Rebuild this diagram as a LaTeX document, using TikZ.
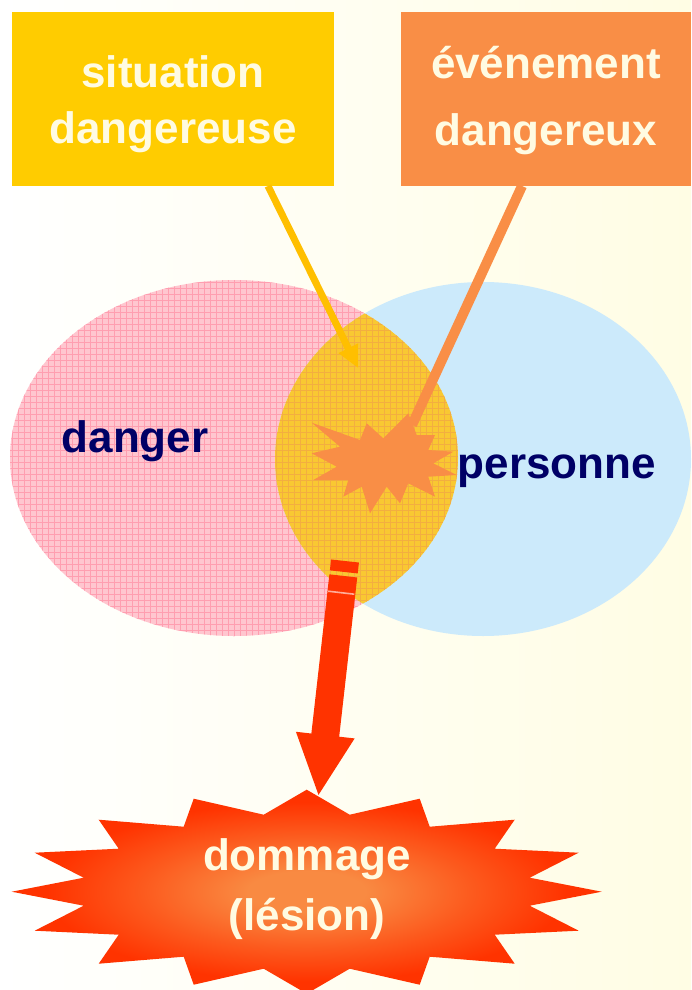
\documentclass[tikz,border=0pt]{standalone}
\usepackage{fontspec}
\setmainfont{Liberation Sans}
\usetikzlibrary{arrows.meta}
\definecolor{bgR}{HTML}{FFFDE4}
\definecolor{yellowbox}{HTML}{FFCC00}
\definecolor{orangebox}{HTML}{F98E46}
\definecolor{cream}{HTML}{FFFBE2}
\definecolor{navy}{HTML}{000066}
\definecolor{pinkfill}{HTML}{FFC6CF}
\definecolor{pinkgrid}{HTML}{FF9EB0}
\definecolor{bluefill}{HTML}{CCEAFB}
\definecolor{lensfill}{HTML}{F9C832}
\definecolor{lensgrid}{HTML}{F3AE40}
\definecolor{yline}{HTML}{FFBF00}
\definecolor{arrowred}{HTML}{FF3300}
\definecolor{dmgin}{HTML}{F98A42}
\pgfdeclareradialshading{dmgshade}{\pgfpoint{0bp}{0bp}}{color(0bp)=(dmgin); color(5bp)=(dmgin); color(14bp)=(dmgin!45!arrowred); color(22bp)=(arrowred); color(50bp)=(arrowred)}
\tikzset{
  boxnode/.style={rectangle, inner sep=0pt, draw=none},
  boxtext/.style={anchor=base, text=cream, font=\bfseries\fontsize{44}{44}\selectfont, inner sep=0pt},
  labeltext/.style={anchor=base, text=navy, font=\bfseries\fontsize{44}{44}\selectfont, inner sep=0pt},
}
\begin{document}
\begin{tikzpicture}[x=1pt,y=-1pt]
\useasboundingbox (0,0) rectangle (691,990);
\shade[left color=white, right color=bgR] (0,0) rectangle (691,990);

% boxes
\node[boxnode, fill=yellowbox, minimum width=322pt, minimum height=174pt] (sit) at (173,99) {};
\node[boxtext] (sit1) at (173,88) {situation};
\node[boxtext] (sit2) at (173,143) {dangereuse};
\node[boxnode, fill=orangebox, minimum width=290pt, minimum height=174pt] (ev) at (546,99) {};
\node[boxtext] (ev1) at (546,78) {événement};
\node[boxtext] (ev2) at (546,145) {dangereux};

% danger ellipse with grid
\begin{scope}
  \clip (234,458) ellipse [x radius=224pt, y radius=178pt];
  \fill[pinkfill] (0,270) rectangle (470,650);
  \draw[pinkgrid, line width=0.8pt, step=6pt] (0,650) grid (470,270);
\end{scope}
% personne ellipse
\fill[bluefill] (483,459) ellipse [x radius=208pt, y radius=177pt];
% lens
\begin{scope}
  \clip (234,458) ellipse [x radius=224pt, y radius=178pt];
  \clip (483,459) ellipse [x radius=208pt, y radius=177pt];
  \fill[lensfill] (260,270) rectangle (470,650);
  \draw[lensgrid, line width=0.8pt, step=6pt] (258,650) grid (470,270);
\end{scope}

\node[labeltext] (danger) at (135,452) {danger};
\node[labeltext] (pers) at (557,478) {personne};

% connectors from boxes
\coordinate (sitfoot) at (268,186);
\coordinate (sittip) at (358,368);
\draw[yline, line width=7pt, -{Triangle[length=22pt,width=20pt]}] (sitfoot) -- (sittip);

% small explosion
\fill[orangebox] plot coordinates {(311.7,422.7) (360,440) (366.7,423.3) (383.3,438.3) (408.3,413.3) (416.7,435) (435,435) (428.3,450) (453.3,451.7) (433.3,463.3) (456.7,475) (428.3,476.7) (435,496.7) (408.3,483.3) (400,503.3) (386.7,486.7) (370,513.3) (361.7,486.7) (343.3,496.7) (348.3,480) (313.3,480) (336.7,466.7) (311.7,453.3) (340,446.7)} -- cycle;
\coordinate (evfoot) at (522,186);
\coordinate (evtip) at (412,425);
\draw[orangebox, line width=10pt] (evfoot) -- (evtip);

% dommage star
\begin{scope}[shift={(306.7,891.7)}]
\shade[shading=dmgshade] plot coordinates {(295,0) (223,-14) (272,-39) (188,-43) (208,-72) (123,-65) (113,-93) (43,-77) (0,-102) (-43,-77) (-113,-93) (-123,-65) (-208,-72) (-188,-43) (-272,-39) (-223,-14) (-295,0) (-223,14) (-272,39) (-188,43) (-208,72) (-123,65) (-113,93) (-43,77) (0,102) (43,77) (113,93) (123,65) (208,72) (188,43) (272,39) (223,14)} -- cycle;
\end{scope}
\node[boxtext] (dmg1) at (307,870) {dommage};
\node[boxtext] (dmg2) at (307,930) {(lésion)};

% big arrow
\coordinate (captop) at (345,561);
\coordinate (capbot) at (343.8,571.9);
\coordinate (shafttop) at (343.3,575.9);
\coordinate (arrtip) at (318.3,796.7);
\draw[arrowred, line width=28pt] (captop) -- (capbot);
\draw[arrowred, line width=28pt, -{Triangle[length=62pt,width=54pt]}] (shafttop) -- (arrtip);
\coordinate (st1) at (328.2,591.2);
\coordinate (st2) at (354.3,594.2);
\draw[white, opacity=0.6, line width=1.6pt] (st1) -- (st2);
\end{tikzpicture}
\end{document}
